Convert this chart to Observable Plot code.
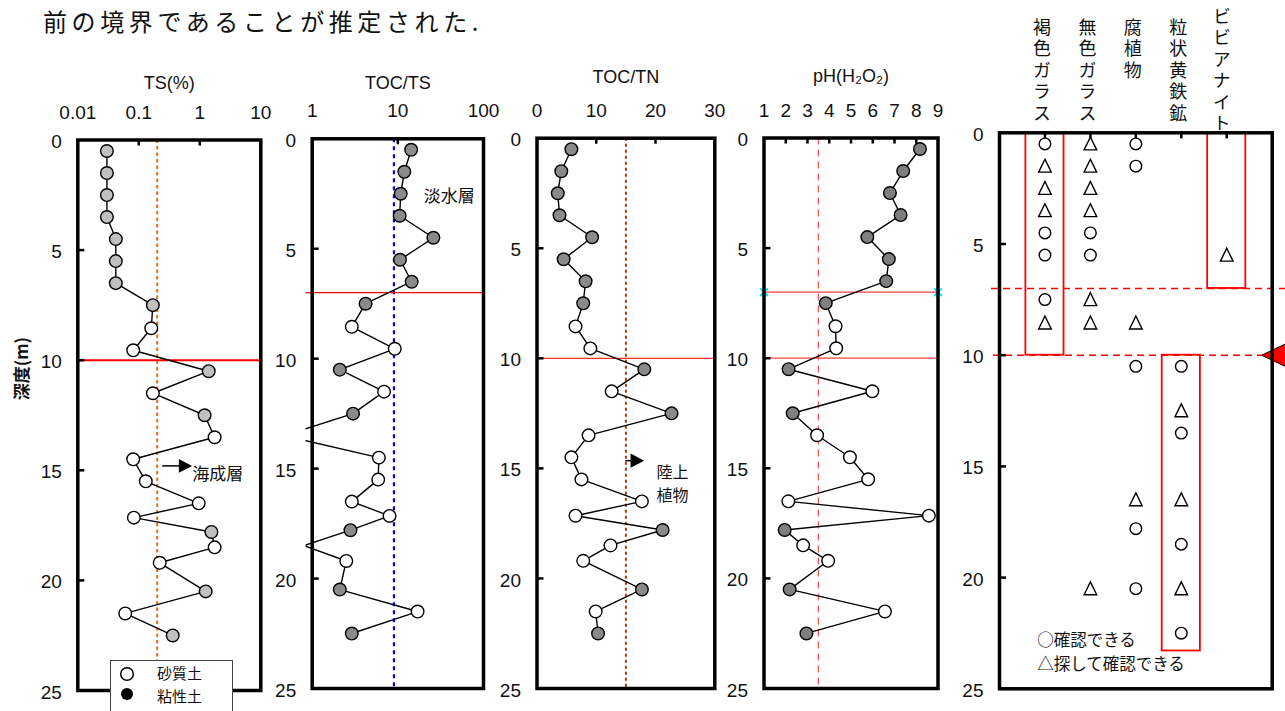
<!DOCTYPE html>
<html>
<head>
<meta charset="utf-8">
<script src="https://cdn.jsdelivr.net/npm/d3@7"></script>
<script src="https://cdn.jsdelivr.net/npm/@observablehq/plot@0.6"></script>
<style>
  body { margin: 0; background: #fff; }
  #chart { position: relative; width: 1285px; height: 711px; overflow: hidden; background: #fff; }
  #chart svg { position: absolute; left: 0; top: 0; }
  .headline { position: absolute; left: 43px; top: 8px; font: 24px/26px "Noto Sans CJK JP", sans-serif; letter-spacing: 4.6px; color: #111; white-space: nowrap; }
  .soil-key { position: absolute; left: 110px; top: 660px; width: 121px; height: 70px; border: 1.3px solid #444; background: #fff; font: 15px "Noto Sans CJK JP", sans-serif; color: #111; }
  .soil-key svg { position: absolute !important; }
  .soil-key span { position: absolute; left: 46px; line-height: 18px; }
</style>
</head>
<body>
<div id="chart">
  <div class="headline">前の境界であることが推定された.</div>
</div>
<script>
const W = 1285, H = 711;
const SANS = '"Liberation Sans", Arial, "Noto Sans CJK JP", sans-serif';
const JP = '"Noto Sans CJK JP", sans-serif';

// Core samples: depth (m) and soil type
const depth = [0.5, 1.5, 2.5, 3.5, 4.5, 5.5, 6.5, 7.5, 8.55, 9.55, 10.5, 11.5,
               12.5, 13.5, 14.5, 15.5, 16.5, 17.15, 17.8, 18.5, 19.2, 20.5, 21.5, 22.5];
const soil = ["粘性土", "粘性土", "粘性土", "粘性土", "粘性土", "粘性土", "粘性土", "粘性土",
              "砂質土", "砂質土", "粘性土", "砂質土", "粘性土", "砂質土", "砂質土", "砂質土",
              "砂質土", "砂質土", "粘性土", "砂質土", "砂質土", "粘性土", "砂質土", "粘性土"];

// Measurements per sample
const ts = [0.030, 0.030, 0.030, 0.030, 0.042, 0.042, 0.042, 0.17, 0.16, 0.081, 1.40, 0.17,
            1.20, 1.75, 0.081, 0.13, 0.96, 0.083, 1.55, 1.75, 0.22, 1.25, 0.060, 0.36];
const tocTs = [14.3, 11.9, 10.8, 10.5, 26, 10.6, 14.5, 4.2, 2.9, 9.2, 2.1, 6.9,
               3.0, 0.47, 6.0, 5.9, 2.9, 8.0, 2.8, 0.8, 2.5, 2.1, 17, 2.9];
const tocTn = [5.8, 4.1, 3.5, 3.8, 9.3, 4.5, 8.2, 7.8, 6.5, 9.0, 18.1, 12.6,
               22.7, 8.7, 5.8, 7.5, 17.7, 6.5, 21.2, 12.4, 7.8, 17.7, 9.9, 10.3];
const ph = [8.17, 7.40, 6.79, 7.28, 5.75, 6.74, 6.62, 3.84, 4.29, 4.32, 2.13, 5.98,
            2.32, 3.44, 4.95, 5.79, 2.12, 8.58, 1.95, 2.80, 3.95, 2.18, 6.56, 2.95];

// Reference values and layer boundaries
const tsLimit = 0.2, tocTsLimit = 9, tocTnLimit = 15, phLimit = 3.5;
const upperBoundary = 7, lowerBoundary = 10;

// Axis ticks
const depthTicks = [0, 5, 10, 15, 20, 25];
const innerDepthTicks = [5, 10, 15, 20];
const tsTicks = [0.01, 0.1, 1, 10];
const tocTsTicks = [1, 10, 100];
const tocTnTicks = [0, 10, 20, 30];
const phTicks = [1, 2, 3, 4, 5, 6, 7, 8, 9];

// Minerals observed under the microscope
const minerals = ["褐色ガラス", "無色ガラス", "腐植物", "粒状黄鉄鉱", "ビビアナイト"];
const obsMineral = [
  "褐色ガラス", "褐色ガラス", "褐色ガラス", "褐色ガラス", "褐色ガラス", "褐色ガラス", "褐色ガラス", "褐色ガラス",
  "無色ガラス", "無色ガラス", "無色ガラス", "無色ガラス", "無色ガラス", "無色ガラス", "無色ガラス", "無色ガラス", "無色ガラス",
  "腐植物", "腐植物", "腐植物", "腐植物", "腐植物", "腐植物", "腐植物",
  "粒状黄鉄鉱", "粒状黄鉄鉱", "粒状黄鉄鉱", "粒状黄鉄鉱", "粒状黄鉄鉱", "粒状黄鉄鉱", "粒状黄鉄鉱",
  "ビビアナイト"];
const obsDepth = [
  0.5, 1.5, 2.5, 3.5, 4.5, 5.5, 7.5, 8.55,
  0.5, 1.5, 2.5, 3.5, 4.5, 5.5, 7.5, 8.55, 20.5,
  0.5, 1.5, 8.55, 10.5, 16.5, 17.8, 20.5,
  10.5, 12.5, 13.5, 16.5, 18.5, 20.5, 22.5,
  5.5];
const obsGrade = [
  "○", "△", "△", "△", "○", "○", "○", "△",
  "△", "△", "△", "△", "○", "○", "△", "△", "△",
  "○", "○", "△", "○", "△", "○", "○",
  "○", "△", "○", "△", "○", "△", "○",
  "△"];
// Depth ranges highlighted for each mineral
const zoneMineral = ["褐色ガラス", "ビビアナイト", "粒状黄鉄鉱"];
const zoneTop = [0, 0, 10];
const zoneBottom = [10, 7, 23.3];

const samples = depth.map((d, i) => ({depth: d, soil: soil[i], ts: ts[i], tocTs: tocTs[i], tocTn: tocTn[i], ph: ph[i]}));
const observations = obsDepth.map((d, i) => ({mineral: obsMineral[i], depth: d, grade: obsGrade[i]}));
const zones = zoneMineral.map((m, i) => ({mineral: m, top: zoneTop[i], bottom: zoneBottom[i]}));

// Custom marker shapes
const triRight = {draw(ctx, size) { const k = Math.sqrt(size / Math.PI); ctx.moveTo(1.6 * k, 0); ctx.lineTo(-0.8 * k, 1.25 * k); ctx.lineTo(-0.8 * k, -1.25 * k); ctx.closePath(); }};
const triLeft = {draw(ctx, size) { const k = Math.sqrt(size / Math.PI); ctx.moveTo(-1.65 * k, 0); ctx.lineTo(1.1 * k, 1.3 * k); ctx.lineTo(1.1 * k, -1.3 * k); ctx.closePath(); }};
const triUp = {draw(ctx, size) { const k = Math.sqrt(size / Math.PI); ctx.moveTo(0, -1.15 * k); ctx.lineTo(1.05 * k, 1.0 * k); ctx.lineTo(-1.05 * k, 1.0 * k); ctx.closePath(); }};

// Panel placement on the page (pixels)
const frames = {
  ts:      {left: 77.3,  right: 260.3,  top: 139.5, bottom: 690},
  tocTs:   {left: 311.7, right: 483,    top: 138.3, bottom: 688, overhang: 6.2},
  tocTn:   {left: 536.5, right: 714.3,  top: 137.7, bottom: 688},
  ph:      {left: 763.5, right: 937.5,  top: 137.5, bottom: 688},
  mineral: {left: 999,   right: 1271.7, top: 132.3, bottom: 688.3}
};

// One depth panel: frame, inward ticks, depth labels and top scale labels
function depthPanel(f, xScale, {xTicks = [], innerX = [], title = null, titleDy = -57, format = String, marks = []}) {
  const over = f.overhang || 0;
  const areaW = f.right - f.left + over;
  const frameH = f.bottom - f.top;
  return Plot.plot({
    width: W, height: H,
    marginLeft: f.left - over, marginRight: W - f.right, marginTop: f.top, marginBottom: H - f.bottom,
    x: {...xScale, range: [f.left, f.right], axis: null},
    y: {domain: [0, 25], range: [f.top, f.bottom], axis: null},
    style: {background: "transparent", fontFamily: SANS, overflow: "visible"},
    marks: [
      ...marks,
      Plot.ruleY(innerDepthTicks, {insetLeft: over, insetRight: areaW - over - 7, stroke: "black", strokeWidth: 2.5}),
      Plot.ruleX(innerX, {insetBottom: frameH - 6, stroke: "black", strokeWidth: 2.5}),
      Plot.frame({stroke: "black", strokeWidth: 3.5, insetLeft: over}),
      Plot.text(depthTicks, {y: d => d, frameAnchor: "left", dx: over - 16, dy: 2, textAnchor: "end", lineAnchor: "middle", fontSize: 19, fill: "#111"}),
      Plot.text(xTicks, {x: d => d, text: format, frameAnchor: "top", dy: -27.5, lineAnchor: "middle", fontSize: 19, fill: "#111"}),
      title ? Plot.text([title], {frameAnchor: "top", dx: over / 2, dy: titleDy, lineAnchor: "middle", fontSize: 18, fill: "#111"}) : null
    ]
  });
}

// Depth profile: connecting line plus sand (white) and clay (grey) samples
function profile(key, clayFill, domainMin, clip = false) {
  const visible = d => d[key] >= domainMin;
  return [
    Plot.line(samples, {x: key, y: "depth", stroke: "black", strokeWidth: 1.4, clip}),
    Plot.dot(samples, {x: key, y: "depth", filter: d => visible(d) && d.soil === "砂質土", r: 6.3, fill: "white", stroke: "black", strokeWidth: 1.4}),
    Plot.dot(samples, {x: key, y: "depth", filter: d => visible(d) && d.soil === "粘性土", r: 6.3, fill: clayFill, stroke: "black", strokeWidth: 1.4})
  ];
}

// Small arrow with a filled head, used for the layer notes
function pointer(a, size) {
  return [
    Plot.link([a], {x1: "from", x2: "to", y1: "depth", y2: "depth", stroke: "black", strokeWidth: 1.5}),
    Plot.dot([a], {x: "to", y: "depth", symbol: triRight, r: size, fill: "black"})
  ];
}

const chart = document.getElementById("chart");

// TS (%)
chart.append(depthPanel(frames.ts, {type: "log", domain: [0.01, 10]}, {
  xTicks: tsTicks, innerX: [0.1, 1], title: "TS(%)", titleDy: -57,
  marks: [
    Plot.ruleX([tsLimit], {stroke: "#f26b1d", strokeWidth: 2, strokeDasharray: "3.5,3"}),
    Plot.ruleY([lowerBoundary], {stroke: "#ff0000", strokeWidth: 2}),
    ...profile("ts", "#c0c0c0", 0.01),
    ...pointer({from: 0.242, to: 0.536, depth: 14.8}, 5.5),
    Plot.text([{label: "海成層", ts: 0.75, depth: 15.2}], {x: "ts", y: "depth", text: "label", textAnchor: "start", lineAnchor: "middle", fontSize: 17, fontFamily: JP, fill: "#111"}),
    Plot.text(["深度(m)"], {frameAnchor: "left", dx: -55, dy: -15, rotate: -90, fontSize: 17, fontWeight: "bold", fontFamily: JP, fill: "#111"})
  ]
}));

// TOC/TS
chart.append(depthPanel(frames.tocTs, {type: "log", domain: [1, 100]}, {
  xTicks: tocTsTicks, innerX: [10], title: "TOC/TS", titleDy: -56,
  marks: [
    Plot.ruleX([tocTsLimit], {stroke: "#0000ff", strokeWidth: 2.2, strokeDasharray: "4,4"}),
    Plot.ruleY([upperBoundary], {stroke: "#ff0000", strokeWidth: 1.2}),
    ...profile("tocTs", "#8a8a8a", 1, true),
    Plot.text([{label: "淡水層", tocTs: 20, depth: 2.62}], {x: "tocTs", y: "depth", text: "label", textAnchor: "start", lineAnchor: "middle", fontSize: 17, fontFamily: JP, fill: "#111"})
  ]
}));

// TOC/TN
chart.append(depthPanel(frames.tocTn, {type: "linear", domain: [0, 30]}, {
  xTicks: tocTnTicks, innerX: [10, 20], title: "TOC/TN", titleDy: -61,
  marks: [
    Plot.ruleX([tocTnLimit], {stroke: "#a33a0a", strokeWidth: 2, strokeDasharray: "3,3"}),
    Plot.ruleY([lowerBoundary], {stroke: "#ff2a2a", strokeWidth: 1.2}),
    ...profile("tocTn", "#8a8a8a", 0),
    ...pointer({from: 14.9, to: 16.56, depth: 14.65}, 5.7),
    Plot.text([{label: "陸上", tocTn: 22.85, depth: 15.2}, {label: "植物", tocTn: 22.85, depth: 16.27}], {x: "tocTn", y: "depth", text: "label", textAnchor: "middle", lineAnchor: "middle", fontSize: 16, fontFamily: JP, fill: "#111"})
  ]
}));

// pH (H2O2)
chart.append(depthPanel(frames.ph, {type: "linear", domain: [1, 9]}, {
  xTicks: phTicks, innerX: [2, 3, 4, 5, 6, 7, 8], title: "pH(H₂O₂)", titleDy: -62,
  marks: [
    Plot.ruleX([phLimit], {stroke: "#ff4d4d", strokeWidth: 1.2, strokeDasharray: "7,5"}),
    Plot.ruleY([upperBoundary, lowerBoundary], {stroke: "#ff4040", strokeWidth: 1.2}),
    Plot.dot([1, 9], {x: d => d, y: () => upperBoundary, symbol: "times", r: 3.6, stroke: "#00e5ff", strokeWidth: 1.8}),
    ...profile("ph", "#7f7f7f", 1)
  ]
}));

// Mineral occurrence chart
const col = m => minerals.indexOf(m) + 1;
const mf = frames.mineral;
const gradeKey = ["○確認できる", "△探して確認できる"];
const mineralPanel = depthPanel(mf, {type: "linear", domain: [0, minerals.length + 1]}, {
  innerX: minerals.map(col),
  marks: [
    Plot.ruleY([upperBoundary], {stroke: "#ff0000", strokeWidth: 1.6, strokeDasharray: "7,5", insetLeft: -8, insetRight: -14}),
    Plot.ruleY([lowerBoundary], {stroke: "#ff0000", strokeWidth: 1.6, strokeDasharray: "7,5", insetLeft: -6, insetRight: 10}),
    Plot.rect(zones, {x1: d => col(d.mineral) - 0.42, x2: d => col(d.mineral) + 0.42, y1: "top", y2: "bottom", fill: "none", stroke: "#ff0000", strokeWidth: 1.8}),
    Plot.dot(observations, {x: d => col(d.mineral), y: "depth", filter: d => d.grade === "○", r: 5.8, fill: "none", stroke: "black", strokeWidth: 1.4}),
    Plot.dot(observations, {x: d => col(d.mineral), y: "depth", filter: d => d.grade === "△", symbol: triUp, r: 6, fill: "none", stroke: "black", strokeWidth: 1.4}),
    // column headings, set vertically below
    Plot.text(minerals, {x: col, filter: d => d !== "ビビアナイト", text: d => d, frameAnchor: "top", dx: -3, dy: -114.8, textAnchor: "start", lineAnchor: "top", fontSize: 18, fontFamily: JP, fill: "#111"}),
    Plot.text(minerals, {x: col, filter: d => d === "ビビアナイト", text: d => d, frameAnchor: "top", dx: -5, dy: -125.8, textAnchor: "start", lineAnchor: "top", fontSize: 18, fontFamily: JP, fill: "#111"}),
    Plot.text(gradeKey, {frameAnchor: "bottom-left", dx: 37.7, dy: -47.6, textAnchor: "start", lineAnchor: "middle", fontSize: 16.5, fontFamily: JP, fill: "#111", filter: (d, i) => i === 0}),
    Plot.text(gradeKey, {frameAnchor: "bottom-left", dx: 37.7, dy: -24, textAnchor: "start", lineAnchor: "middle", fontSize: 16.5, fontFamily: JP, fill: "#111", filter: (d, i) => i === 1}),
    Plot.dot([lowerBoundary], {y: d => d, frameAnchor: "right", dx: 4.3, symbol: triLeft, r: 9, fill: "#ff0000", stroke: "black", strokeWidth: 1})
  ]
});
// Japanese column headings read top to bottom
mineralPanel.querySelectorAll("text").forEach(t => {
  if (minerals.includes(t.textContent)) {
    t.removeAttribute("y");
    t.style.writingMode = "vertical-rl";
    t.style.textOrientation = "upright";
    t.style.letterSpacing = "3.5px";
  }
});
chart.append(mineralPanel);

// Soil-type key
const key = document.createElement("div");
key.className = "soil-key";
key.innerHTML =
  '<svg width="20" height="20" style="left:6px;top:3px"><circle cx="10" cy="10" r="6.3" fill="white" stroke="black" stroke-width="1.5"/></svg><span style="top:3px">砂質土</span>' +
  '<svg width="20" height="20" style="left:6px;top:23px"><circle cx="10" cy="10" r="6" fill="black"/></svg><span style="top:25.5px">粘性土</span>';
chart.append(key);
</script>
</body>
</html>
